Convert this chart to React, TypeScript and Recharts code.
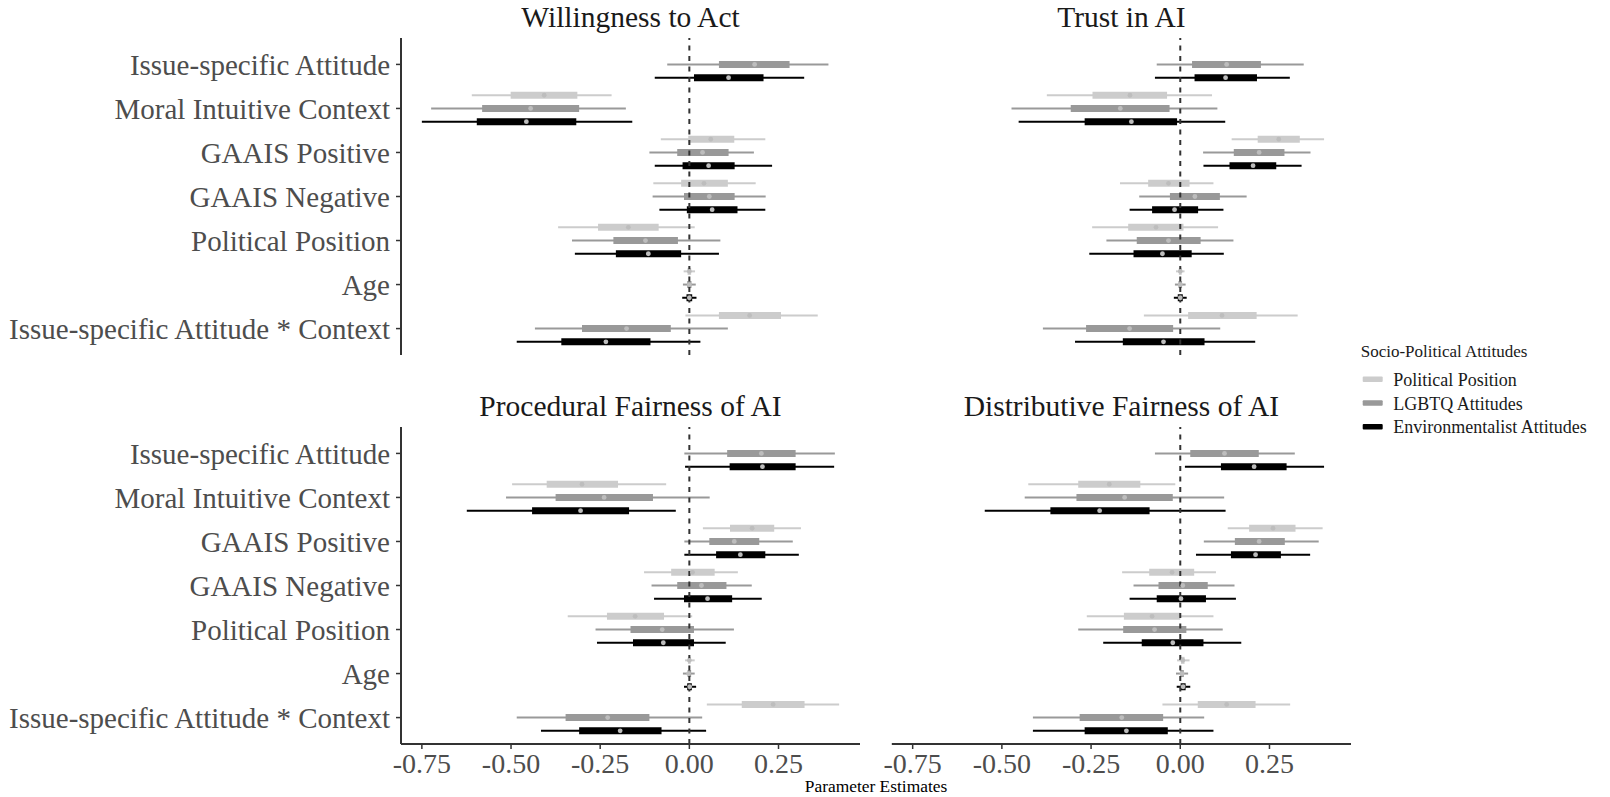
import React from 'react'
import { ScatterChart, Scatter, XAxis, YAxis, ErrorBar, ReferenceLine } from 'recharts'

const PREDICTORS = [
  'Issue-specific Attitude',
  'Moral Intuitive Context',
  'GAAIS Positive',
  'GAAIS Negative',
  'Political Position',
  'Age',
  'Issue-specific Attitude * Context',
]
const SERIES = ['Political Position', 'LGBTQ Attitudes', 'Environmentalist Attitudes']
const COLORS = ['#cccccc', '#999999', '#000000']
const X_TICKS = [-0.75, -0.5, -0.25, 0, 0.25]

// each row: [lower 95, lower 66, median, upper 66, upper 95]; null = not in model
type Row = number[] | null

const ACT_POL: Row[] = [
  null,
  [-0.61, -0.501, -0.407, -0.314, -0.218],
  [-0.08, -0.003, 0.06, 0.126, 0.213],
  [-0.101, -0.023, 0.041, 0.108, 0.186],
  [-0.368, -0.256, -0.171, -0.086, 0.015],
  [-0.016, -0.005, 0, 0.005, 0.016],
  [-0.011, 0.083, 0.169, 0.257, 0.36],
]
const ACT_LGBTQ: Row[] = [
  [-0.062, 0.083, 0.183, 0.281, 0.39],
  [-0.724, -0.581, -0.445, -0.309, -0.178],
  [-0.112, -0.034, 0.037, 0.11, 0.181],
  [-0.103, -0.015, 0.056, 0.127, 0.214],
  [-0.329, -0.213, -0.123, -0.032, 0.087],
  [-0.018, -0.006, 0, 0.006, 0.018],
  [-0.433, -0.301, -0.176, -0.052, 0.108],
]
const ACT_ENV: Row[] = [
  [-0.097, 0.013, 0.11, 0.208, 0.322],
  [-0.75, -0.596, -0.457, -0.317, -0.16],
  [-0.097, -0.019, 0.054, 0.127, 0.232],
  [-0.084, -0.007, 0.064, 0.135, 0.213],
  [-0.321, -0.206, -0.115, -0.023, 0.083],
  [-0.02, -0.008, 0, 0.008, 0.02],
  [-0.484, -0.359, -0.234, -0.109, 0.031],
]

const TRUST_POL: Row[] = [
  null,
  [-0.374, -0.246, -0.141, -0.037, 0.089],
  [0.144, 0.217, 0.276, 0.335, 0.403],
  [-0.169, -0.09, -0.033, 0.026, 0.093],
  [-0.247, -0.146, -0.068, 0.009, 0.106],
  [-0.012, -0.004, 0, 0.004, 0.012],
  [-0.102, 0.022, 0.117, 0.214, 0.329],
]
const TRUST_LGBTQ: Row[] = [
  [-0.066, 0.033, 0.13, 0.226, 0.346],
  [-0.473, -0.307, -0.168, -0.03, 0.104],
  [0.064, 0.15, 0.221, 0.292, 0.365],
  [-0.115, -0.029, 0.041, 0.111, 0.186],
  [-0.207, -0.122, -0.033, 0.057, 0.149],
  [-0.015, -0.005, 0, 0.005, 0.015],
  [-0.385, -0.264, -0.142, -0.02, 0.112],
]
const TRUST_ENV: Row[] = [
  [-0.071, 0.04, 0.127, 0.215, 0.307],
  [-0.453, -0.268, -0.137, -0.009, 0.126],
  [0.065, 0.138, 0.204, 0.269, 0.34],
  [-0.142, -0.079, -0.016, 0.05, 0.121],
  [-0.255, -0.131, -0.05, 0.032, 0.122],
  [-0.018, -0.007, 0, 0.007, 0.018],
  [-0.295, -0.161, -0.047, 0.068, 0.21],
]

const PROC_POL: Row[] = [
  null,
  [-0.497, -0.4, -0.301, -0.2, -0.065],
  [0.038, 0.114, 0.176, 0.238, 0.313],
  [-0.127, -0.051, 0.009, 0.071, 0.136],
  [-0.341, -0.231, -0.152, -0.071, 0.008],
  [-0.012, -0.004, 0, 0.004, 0.015],
  [0.049, 0.147, 0.235, 0.323, 0.42],
]
const PROC_LGBTQ: Row[] = [
  [-0.014, 0.106, 0.202, 0.298, 0.408],
  [-0.514, -0.375, -0.239, -0.102, 0.057],
  [-0.014, 0.056, 0.126, 0.196, 0.29],
  [-0.106, -0.034, 0.034, 0.104, 0.175],
  [-0.263, -0.165, -0.076, 0.013, 0.125],
  [-0.018, -0.005, -0.002, 0.005, 0.015],
  [-0.484, -0.347, -0.229, -0.112, 0.036],
]
const PROC_ENV: Row[] = [
  [-0.012, 0.113, 0.205, 0.298, 0.406],
  [-0.624, -0.441, -0.305, -0.169, -0.038],
  [-0.014, 0.075, 0.143, 0.213, 0.307],
  [-0.099, -0.015, 0.051, 0.12, 0.203],
  [-0.259, -0.158, -0.073, 0.013, 0.102],
  [-0.015, -0.006, 0.001, 0.007, 0.019],
  [-0.416, -0.309, -0.194, -0.078, 0.047],
]

const DIST_POL: Row[] = [
  null,
  [-0.426, -0.286, -0.199, -0.112, -0.014],
  [0.133, 0.193, 0.26, 0.323, 0.399],
  [-0.163, -0.087, -0.023, 0.039, 0.1],
  [-0.262, -0.158, -0.079, 0, 0.093],
  [-0.009, 0.002, 0.007, 0.012, 0.026],
  [-0.05, 0.049, 0.13, 0.211, 0.308],
]
const DIST_LGBTQ: Row[] = [
  [-0.071, 0.028, 0.124, 0.22, 0.321],
  [-0.436, -0.291, -0.156, -0.021, 0.123],
  [0.066, 0.153, 0.221, 0.293, 0.388],
  [-0.131, -0.061, 0.007, 0.077, 0.152],
  [-0.286, -0.16, -0.072, 0.017, 0.119],
  [-0.012, 0, 0.005, 0.01, 0.022],
  [-0.413, -0.282, -0.164, -0.048, 0.067],
]
const DIST_ENV: Row[] = [
  [0.013, 0.114, 0.207, 0.298, 0.403],
  [-0.548, -0.364, -0.226, -0.086, 0.127],
  [0.044, 0.142, 0.211, 0.282, 0.364],
  [-0.142, -0.066, 0.002, 0.072, 0.156],
  [-0.216, -0.108, -0.021, 0.065, 0.171],
  [-0.01, 0.001, 0.008, 0.015, 0.028],
  [-0.413, -0.268, -0.151, -0.035, 0.093],
]

const FONT = '"Liberation Serif", "Times New Roman", serif'
const X_DOMAIN = [-0.8085, 0.4785]
const Y_DOMAIN = [-0.6, 6.6]
const DODGE = 0.3

const toPoints = (rows: Row[], k: number) =>
  rows
    .map((r, i) =>
      r
        ? {
            x: r[2],
            y: i + (k - 1) * DODGE,
            e95: [r[2] - r[0], r[4] - r[2]],
            e66: [r[2] - r[1], r[3] - r[2]],
          }
        : null
    )
    .filter(Boolean) as any[]

const Dot = (p: any) => <circle cx={p.cx} cy={p.cy} r={2.4} fill="#bdbdbd" />

const Panel = ({ title, series, left, bottom, x, y }: any) => {
  const w = left ? 870 : 480
  const h = bottom ? 408 : 370
  const margin = {
    top: 38,
    bottom: bottom ? 0 : 15,
    left: left ? 0 : 11.8,
    right: left ? 10 : 9,
  }
  const plotLeft = left ? 401 : 11.8
  const plotRight = w - margin.right
  return (
    <div style={{ position: 'absolute', left: x, top: y, width: w, height: h }}>
      <div
        style={{
          position: 'absolute',
          left: plotLeft,
          width: plotRight - plotLeft,
          top: 3,
          textAlign: 'center',
          fontSize: 29.5,
          lineHeight: '29px',
          color: '#1a1a1a',
          whiteSpace: 'nowrap',
        }}
      >
        {title}
      </div>
      <ScatterChart width={w} height={h} margin={margin} style={{ fontFamily: FONT }}>
        <XAxis
          type="number"
          dataKey="x"
          domain={X_DOMAIN}
          ticks={X_TICKS}
          allowDataOverflow
          hide={!bottom}
          height={53}
          tickFormatter={(v: number) => v.toFixed(2)}
          tick={{ fontSize: 28, fill: '#4d4d4d', style: { fontFamily: FONT } }}
          tickSize={5}
          tickMargin={4}
          axisLine={{ stroke: '#333', strokeWidth: 2 }}
          tickLine={{ stroke: '#333', strokeWidth: 1.5 }}
        />
        <YAxis
          type="number"
          dataKey="y"
          domain={Y_DOMAIN}
          reversed
          allowDataOverflow
          ticks={[0, 1, 2, 3, 4, 5, 6]}
          interval={0}
          hide={!left}
          width={401}
          tickFormatter={(v: number) => PREDICTORS[v]}
          tick={{ fontSize: 29, fill: '#4d4d4d', style: { fontFamily: FONT } }}
          tickSize={5}
          tickMargin={6}
          axisLine={{ stroke: '#333', strokeWidth: 2 }}
          tickLine={{ stroke: '#333', strokeWidth: 1.5 }}
        />
        {series.map((rows: Row[], k: number) => (
          <Scatter
            key={SERIES[k]}
            name={SERIES[k]}
            data={toPoints(rows, k)}
            shape={Dot}
            isAnimationActive={false}
          >
            <ErrorBar dataKey="e95" direction="x" width={0} stroke={COLORS[k]} strokeWidth={2} />
            <ErrorBar dataKey="e66" direction="x" width={0} stroke={COLORS[k]} strokeWidth={7} />
          </Scatter>
        ))}
        <ReferenceLine x={0} stroke="#333" strokeWidth={2} strokeDasharray="5 5.5" />
      </ScatterChart>
    </div>
  )
}

const Legend = () => (
  <svg
    style={{ position: 'absolute', left: 1350, top: 330, fontFamily: FONT }}
    width={260}
    height={110}
  >
    <text x={10.7} y={26.5} fontSize={17} fill="#1a1a1a" style={{ fontFamily: FONT }}>
      Socio-Political Attitudes
    </text>
    {SERIES.map((s, k) => {
      const cy = 49.3 + k * 23.7
      return (
        <g key={s}>
          <rect x={12.7} y={cy - 2.8} width={20} height={5.6} rx={1} fill={COLORS[k]} />
          <text x={43.3} y={cy + 6.5} fontSize={18} fill="#1a1a1a" style={{ fontFamily: FONT }}>
            {s}
          </text>
        </g>
      )
    })}
  </svg>
)

export default function App() {
  return (
    <div
      style={{
        position: 'absolute',
        left: 0,
        top: 0,
        width: 1610,
        height: 797,
        background: '#fff',
        fontFamily: FONT,
        overflow: 'hidden',
      }}
    >
      <Panel title="Willingness to Act" series={[ACT_POL, ACT_LGBTQ, ACT_ENV]} left x={0} y={0} />
      <Panel title="Trust in AI" series={[TRUST_POL, TRUST_LGBTQ, TRUST_ENV]} x={880} y={0} />
      <Panel
        title="Procedural Fairness of AI"
        series={[PROC_POL, PROC_LGBTQ, PROC_ENV]}
        left
        bottom
        x={0}
        y={389}
      />
      <Panel
        title="Distributive Fairness of AI"
        series={[DIST_POL, DIST_LGBTQ, DIST_ENV]}
        bottom
        x={880}
        y={389}
      />
      <Legend />
      <div
        style={{
          position: 'absolute',
          left: 676,
          width: 400,
          top: 778,
          textAlign: 'center',
          fontSize: 17.4,
          lineHeight: '17px',
          color: '#000',
        }}
      >
        Parameter Estimates
      </div>
    </div>
  )
}
